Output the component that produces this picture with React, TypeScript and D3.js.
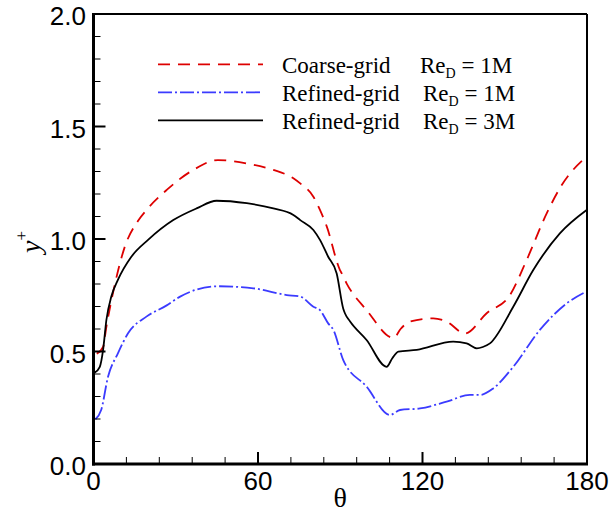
import React from "react";
import * as d3 from "d3";

const thetaCoarse = [1.2, 3.5, 4.7, 7.1, 11.4, 16.2, 19.4, 26.7, 36.4, 45.4, 55.9, 65.6, 72.9, 75.4, 80.2, 82.6, 85.1, 89.9, 90.5, 92.3, 99.6, 109.5, 112, 115.4, 123.9, 128.8, 135.5, 143.4, 151.9, 158, 165.3, 170.8, 180];
const yCoarse = [0.49, 0.52, 0.61, 0.76, 0.965, 1.08, 1.13, 1.218, 1.307, 1.351, 1.336, 1.307, 1.27, 1.247, 1.188, 1.129, 1.055, 0.862, 0.848, 0.803, 0.684, 0.56, 0.6, 0.633, 0.647, 0.633, 0.58, 0.67, 0.751, 0.907, 1.114, 1.24, 1.368];

const thetaRefined1M = [0.7, 2.8, 5.3, 8.9, 12.6, 19.3, 26.7, 31.6, 45.4, 58.3, 70.5, 75.4, 80.2, 82.6, 85.6, 87.5, 91.1, 99.6, 108.1, 111.8, 119.1, 128.8, 137.3, 141, 145.8, 153.1, 162.8, 172.6, 180];
const yRefined1M = [0.199, 0.24, 0.388, 0.492, 0.581, 0.655, 0.705, 0.744, 0.79, 0.781, 0.751, 0.744, 0.699, 0.684, 0.625, 0.596, 0.462, 0.344, 0.218, 0.24, 0.247, 0.277, 0.307, 0.307, 0.336, 0.432, 0.596, 0.714, 0.768];

const thetaRefined3M = [0.4, 2.3, 3.5, 4.7, 6.5, 8.9, 13.8, 19.9, 29.1, 37.6, 44.9, 55.9, 65.6, 72.9, 75.4, 80.2, 82.6, 85.6, 88.7, 91.1, 91.7, 93.6, 99.6, 106.9, 109, 111.2, 117.9, 131.2, 136.1, 139.8, 142, 144.6, 153.1, 160.4, 170.1, 180];
const yRefined3M = [0.406, 0.432, 0.507, 0.64, 0.744, 0.818, 0.921, 0.996, 1.084, 1.136, 1.17, 1.159, 1.136, 1.107, 1.084, 1.04, 0.996, 0.921, 0.847, 0.69, 0.67, 0.633, 0.551, 0.432, 0.47, 0.499, 0.507, 0.544, 0.536, 0.514, 0.52, 0.536, 0.699, 0.862, 1.025, 1.13];

const xMajorTicks = [0, 60, 120, 180];
const xMinorTicks = [12, 24, 36, 48, 72, 84, 96, 108, 132, 144, 156, 168];
const yMajorTicks = [0, 0.5, 1.0, 1.5, 2.0];
const yMinorTicks = [0.1, 0.2, 0.3, 0.4, 0.6, 0.7, 0.8, 0.9, 1.1, 1.2, 1.3, 1.4, 1.6, 1.7, 1.8, 1.9];

const legendNames = ["Coarse-grid", "Refined-grid", "Refined-grid"];
const legendRe = ["1M", "1M", "3M"];

const W = 613, H = 513;
const left = 93.5, right = 587, top = 14, bottom = 464;

export default function App() {
  const x = d3.scaleLinear().domain([0, 180]).range([left, right]);
  const y = d3.scaleLinear().domain([0, 2]).range([bottom, top]);
  const line = d3.line<[number, number]>().x(d => x(d[0])).y(d => y(d[1])).curve(d3.curveMonotoneX);

  const series = [
    { xs: thetaCoarse, ys: yCoarse, color: "#dd0000", dash: "12,8" },
    { xs: thetaRefined1M, ys: yRefined1M, color: "#3b3bff", dash: "14,3,2,3" },
    { xs: thetaRefined3M, ys: yRefined3M, color: "#000000", dash: "none" },
  ];

  const serif = "'Liberation Serif', 'Times New Roman', serif";
  const sans = "'Liberation Sans', Arial, sans-serif";

  return (
    <svg width={W} height={H} style={{ position: "absolute", left: 0, top: 0, display: "block", background: "#fff" }}>
      {series.map((s, i) => (
        <path key={i} d={line(s.xs.map((v, j) => [v, s.ys[j]] as [number, number])) || ""}
          fill="none" stroke={s.color} strokeWidth={1.8} strokeDasharray={s.dash} />
      ))}
      {/* frame */}
      <line x1={left} x2={right} y1={top} y2={top} stroke="#000" strokeWidth={2} />
      <line x1={right} x2={right} y1={top} y2={bottom} stroke="#000" strokeWidth={2} />
      <line x1={left} x2={left} y1={top - 1} y2={bottom + 1.5} stroke="#000" strokeWidth={3} />
      <line x1={left - 1.5} x2={right + 1} y1={bottom} y2={bottom} stroke="#000" strokeWidth={3} />
      {/* y ticks */}
      {yMajorTicks.map(t => (
        <g key={"ym" + t}>
          <line x1={left} x2={left + 12} y1={y(t)} y2={y(t)} stroke="#000" strokeWidth={2} />
          <text x={86} y={y(t) + 11} textAnchor="end" fontFamily={sans} fontSize={26} fill="#000">{t.toFixed(1)}</text>
        </g>
      ))}
      {yMinorTicks.map(t => (
        <line key={"yn" + t} x1={left} x2={left + 7} y1={y(t)} y2={y(t)} stroke="#000" strokeWidth={1} />
      ))}
      {/* x ticks */}
      {xMajorTicks.map(t => (
        <g key={"xm" + t}>
          <line x1={x(t)} x2={x(t)} y1={bottom} y2={bottom - 12} stroke="#000" strokeWidth={2} />
          <text x={x(t)} y={490} textAnchor="middle" fontFamily={sans} fontSize={26} fill="#000">{t}</text>
        </g>
      ))}
      {xMinorTicks.map(t => (
        <line key={"xn" + t} x1={x(t)} x2={x(t)} y1={bottom} y2={bottom - 7} stroke="#000" strokeWidth={1} />
      ))}
      {/* axis labels */}
      <text x={(left + right) / 2} y={507} textAnchor="middle" fontFamily={serif} fontSize={28} fill="#000">θ</text>
      <text transform={`translate(40,253) rotate(-90)`} fontFamily={serif} fontSize={28} fill="#000">
        <tspan fontStyle="italic">y</tspan>
        <tspan fontSize={17} dy={-13}>+</tspan>
      </text>
      {/* legend */}
      {series.map((s, i) => {
        const ly = 64.3 + i * 28;
        return (
          <g key={"lg" + i}>
            <line x1={158} x2={263} y1={ly} y2={ly} stroke={s.color} strokeWidth={1.8} strokeDasharray={s.dash} />
            <text x={282} y={ly + 8.5} fontFamily={serif} fontSize={23} fill="#000">{legendNames[i]}</text>
            <text x={i === 0 ? 420 : 423} y={ly + 8.5} fontFamily={serif} fontSize={23} fill="#000">
              Re<tspan fontSize={14} dy={5}>D</tspan><tspan dy={-5}> = {legendRe[i]}</tspan>
            </text>
          </g>
        );
      })}
    </svg>
  );
}
